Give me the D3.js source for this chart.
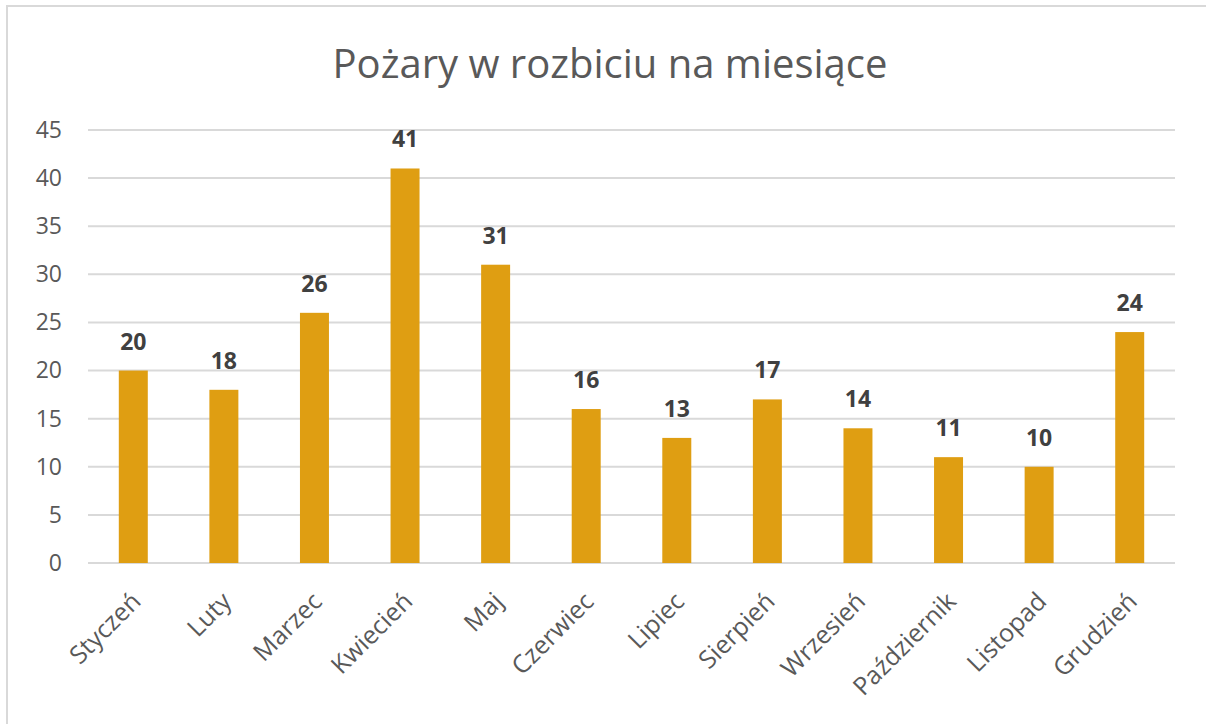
<!DOCTYPE html>
<html>
<head>
<meta charset="utf-8">
<script src="https://cdn.jsdelivr.net/npm/d3@7"></script>
<style>
  body { margin: 0; background: #fff; }
  text { font-family: "Open Sans", sans-serif; }
</style>
</head>
<body>
<div id="chart"></div>
<script>
const months = ['Styczeń', 'Luty', 'Marzec', 'Kwiecień', 'Maj', 'Czerwiec',
                'Lipiec', 'Sierpień', 'Wrzesień', 'Październik', 'Listopad', 'Grudzień'];
const fires = [20, 18, 26, 41, 31, 16, 13, 17, 14, 11, 10, 24];
const yTicks = [0, 5, 10, 15, 20, 25, 30, 35, 40, 45];

const W = 1206, H = 724;
const margin = {top: 130, right: 31, bottom: 161, left: 88};

const svg = d3.select('#chart').append('svg')
    .attr('width', W)
    .attr('height', H);

// chart frame (only top and left edges show in the window)
svg.append('rect')
    .attr('x', 7).attr('y', 6)
    .attr('width', W + 20).attr('height', H + 20)
    .attr('fill', 'none')
    .attr('stroke', '#d9d9d9')
    .attr('stroke-width', 2);

svg.append('text')
    .attr('x', 610)
    .attr('y', 78)
    .attr('text-anchor', 'middle')
    .attr('fill', '#595959')
    .style('font-size', '40px')
    .text('Pożary w rozbiciu na miesiące');

const x = d3.scaleBand()
    .domain(months)
    .range([margin.left, W - margin.right])
    .paddingInner(0.68)
    .paddingOuter(0.34);

const y = d3.scaleLinear()
    .domain([0, 45])
    .range([H - margin.bottom, margin.top]);

// gridlines
svg.append('g')
  .selectAll('line')
    .data(yTicks)
  .enter().append('line')
    .attr('x1', margin.left)
    .attr('x2', W - margin.right)
    .attr('y1', d => y(d))
    .attr('y2', d => y(d))
    .attr('stroke', '#d9d9d9')
    .attr('stroke-width', 2);

const yAxis = svg.append('g')
    .attr('transform', 'translate(' + (margin.left - 26) + ',0)')
    .call(d3.axisLeft(y).tickValues(yTicks).tickSize(0).tickPadding(0));
yAxis.select('.domain').remove();
yAxis.selectAll('text')
    .attr('fill', '#595959')
    .style('font-size', '23px');

svg.append('g')
  .selectAll('rect')
    .data(fires)
  .enter().append('rect')
    .attr('x', (d, i) => x(months[i]))
    .attr('width', x.bandwidth())
    .attr('y', d => y(d))
    .attr('height', d => y(0) - y(d))
    .attr('fill', '#df9e12');

svg.append('g')
  .selectAll('text')
    .data(fires)
  .enter().append('text')
    .attr('x', (d, i) => x(months[i]) + x.bandwidth() / 2)
    .attr('y', d => y(d) - 21)
    .attr('text-anchor', 'middle')
    .attr('fill', '#404040')
    .style('font-size', '23px')
    .style('font-weight', 'bold')
    .text(d => d);

const xAxis = svg.append('g')
    .attr('transform', 'translate(0,' + y(0) + ')')
    .call(d3.axisBottom(x).tickSize(0).tickPadding(0));
xAxis.select('.domain').remove();
xAxis.selectAll('text')
    .attr('fill', '#595959')
    .style('font-size', '25px')
    .attr('text-anchor', 'end')
    .attr('dy', 0)
    .attr('transform', 'translate(9,40) rotate(-45)');
</script>
</body>
</html>
